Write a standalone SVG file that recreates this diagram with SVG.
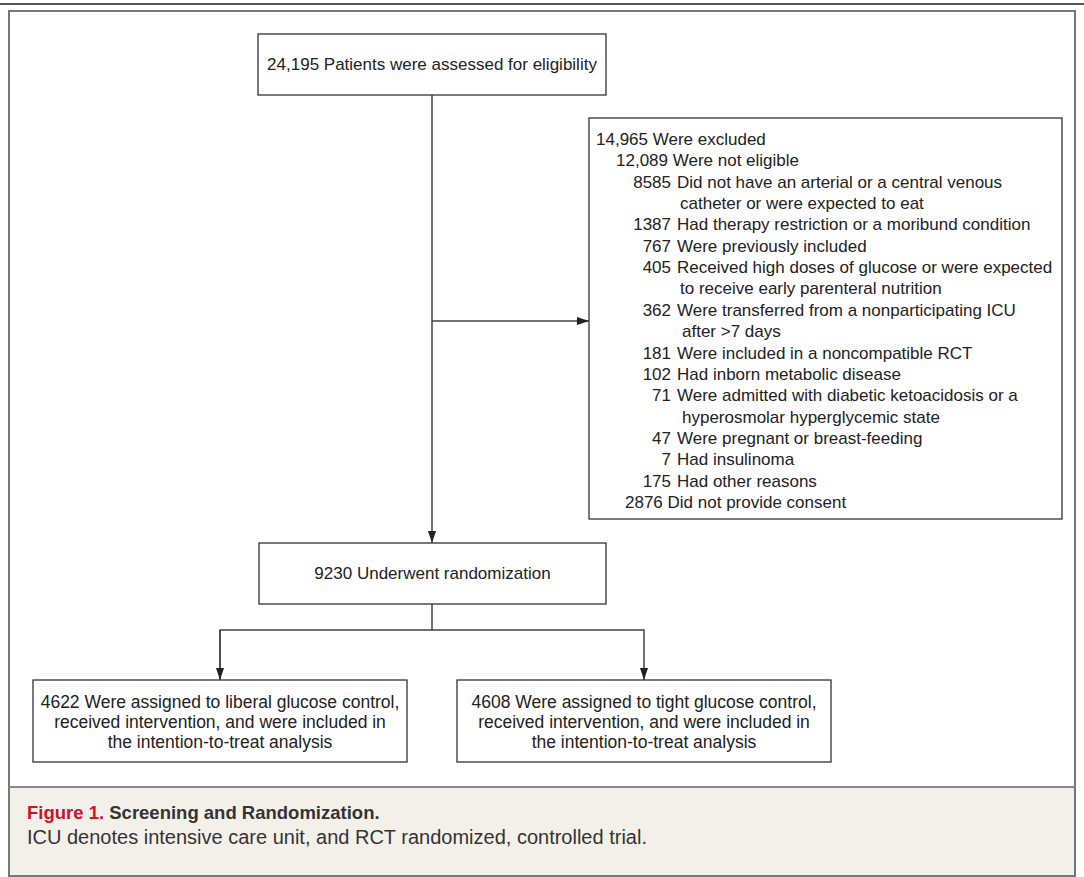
<svg xmlns="http://www.w3.org/2000/svg" width="1084" height="877" viewBox="0 0 1084 877">
<defs>
<style>
.box{fill:#fff;stroke:#333;stroke-width:1.3}
.t{font-family:"Liberation Sans",Arial,sans-serif;font-size:17px;fill:#222}
.b{font-family:"Liberation Sans",Arial,sans-serif;font-size:17.5px;fill:#222}
.x{font-family:"Liberation Sans",Arial,sans-serif;font-size:17px;fill:#222}
.n{text-anchor:end}
.c{text-anchor:middle}
.con{fill:none;stroke:#444;stroke-width:1.5}
.cap{font-family:"Liberation Sans",Arial,sans-serif;fill:#333}
</style>
<marker id="ah" viewBox="0 0 12 8" refX="12" refY="4" markerWidth="12" markerHeight="8" markerUnits="userSpaceOnUse" orient="auto">
<path d="M0,0 L12,4 L0,8 Z" fill="#222"/>
</marker>
</defs>
<rect x="0" y="0" width="1084" height="877" fill="#fff"/>
<line x1="0" y1="4" x2="1084" y2="4" stroke="#555" stroke-width="2"/>
<rect x="9" y="11" width="1066" height="865" fill="#fff" stroke="#777" stroke-width="2"/>
<rect x="10" y="787" width="1064" height="88" fill="#f3f0ea"/>
<line x1="9" y1="787" x2="1075" y2="787" stroke="#888" stroke-width="2"/>

<g id="connectors">
<line class="con" x1="432" y1="95" x2="432" y2="543" marker-end="url(#ah)"/>
<line class="con" x1="432" y1="321" x2="589" y2="321" marker-end="url(#ah)"/>
<polyline class="con" points="432,604 432,630"/>
<polyline class="con" points="220,680 220,630 644,630 644,680" marker-end="url(#ah)"/>
<line class="con" x1="220" y1="630" x2="220" y2="680" marker-end="url(#ah)"/>
</g>

<g id="assessed">
<rect class="box" x="258" y="34" width="348" height="61"/>
<text class="t c" x="432" y="70">24,195 Patients were assessed for eligibility</text>
</g>

<g id="excluded">
<rect class="box" x="589" y="118" width="473" height="401"/>
<text class="x" x="596" y="145">14,965 Were excluded</text>
<text class="x" x="616" y="166">12,089 Were not eligible</text>
<text class="x n" x="671" y="188">8585</text><text class="x" x="677" y="188">Did not have an arterial or a central venous</text>
<text class="x" x="680" y="209">catheter or were expected to eat</text>
<text class="x n" x="671" y="230">1387</text><text class="x" x="677" y="230">Had therapy restriction or a moribund condition</text>
<text class="x n" x="671" y="252">767</text><text class="x" x="677" y="252">Were previously included</text>
<text class="x n" x="671" y="273">405</text><text class="x" x="677" y="273">Received high doses of glucose or were expected</text>
<text class="x" x="680" y="294">to receive early parenteral nutrition</text>
<text class="x n" x="671" y="316">362</text><text class="x" x="677" y="316">Were transferred from a nonparticipating ICU</text>
<text class="x" x="682" y="337">after &gt;7 days</text>
<text class="x n" x="671" y="359">181</text><text class="x" x="677" y="359">Were included in a noncompatible RCT</text>
<text class="x n" x="671" y="380">102</text><text class="x" x="677" y="380">Had inborn metabolic disease</text>
<text class="x n" x="671" y="401">71</text><text class="x" x="677" y="401">Were admitted with diabetic ketoacidosis or a</text>
<text class="x" x="682" y="423">hyperosmolar hyperglycemic state</text>
<text class="x n" x="671" y="444">47</text><text class="x" x="677" y="444">Were pregnant or breast-feeding</text>
<text class="x n" x="671" y="465">7</text><text class="x" x="677" y="465">Had insulinoma</text>
<text class="x n" x="671" y="487">175</text><text class="x" x="677" y="487">Had other reasons</text>
<text class="x" x="625" y="508">2876 Did not provide consent</text>
</g>

<g id="randomized">
<rect class="box" x="259" y="543" width="347" height="61"/>
<text class="t c" x="432.5" y="579" font-size="17.5">9230 Underwent randomization</text>
</g>

<g id="liberal">
<rect class="box" x="33" y="680" width="374" height="82"/>
<text class="b c" x="220" y="708">4622 Were assigned to liberal glucose control,</text>
<text class="b c" x="220" y="728">received intervention, and were included in</text>
<text class="b c" x="220" y="748">the intention-to-treat analysis</text>
</g>

<g id="tight">
<rect class="box" x="457" y="680" width="374" height="82"/>
<text class="b c" x="644" y="708">4608 Were assigned to tight glucose control,</text>
<text class="b c" x="644" y="728">received intervention, and were included in</text>
<text class="b c" x="644" y="748">the intention-to-treat analysis</text>
</g>

<g id="caption">
<text class="cap" x="27" y="819" font-size="18.5" font-weight="bold"><tspan fill="#d0112b">Figure 1.</tspan> Screening and Randomization.</text>
<text class="cap" x="27" y="844" font-size="20">ICU denotes intensive care unit, and RCT randomized, controlled trial.</text>
</g>
</svg>
